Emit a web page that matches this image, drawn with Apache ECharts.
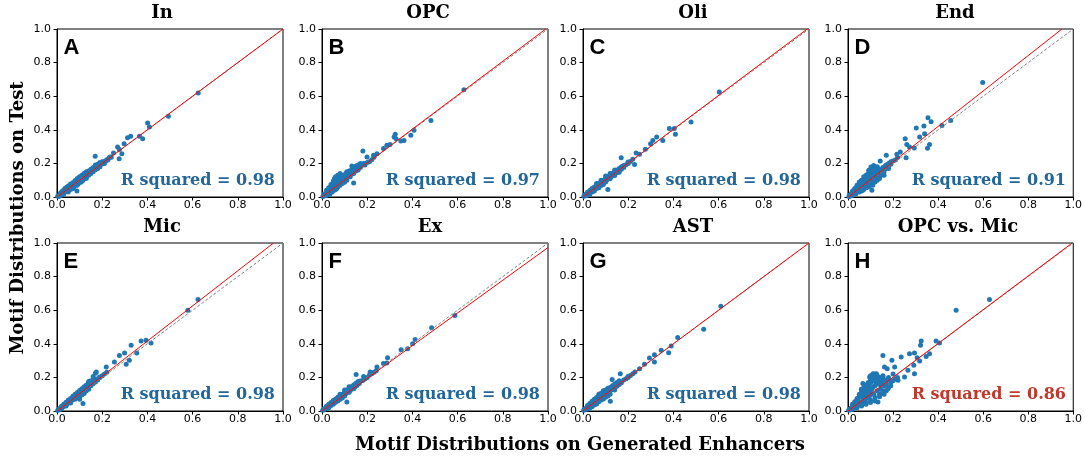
<!DOCTYPE html>
<html>
<head>
<meta charset="utf-8">
<script src="https://cdn.jsdelivr.net/npm/echarts@6/dist/echarts.min.js"></script>
<style>html,body{margin:0;padding:0;background:#fff}#c{width:1085px;height:458px}</style>
</head>
<body>
<div id="c"></div>
<script>
const titles = ['In','OPC','Oli','End','Mic','Ex','AST','OPC vs. Mic'];
const letters = ['A','B','C','D','E','F','G','H'];
const rSquared = ['0.98','0.97','0.98','0.91','0.98','0.98','0.98','0.86'];
const fitSlope = [1.0, 1.01, 1.008, 1.055, 1.046, 0.973, 1.0, 1.005];
const fitIntercept = [0, 0, 0, -0.002, -0.002, 0, 0, 0];
const tickValues = [0, 0.2, 0.4, 0.6, 0.8, 1.0];
const xAxisTitle = 'Motif Distributions on Generated Enhancers';
const yAxisTitle = 'Motif Distributions on Test';

const ptsA = [[0.003,0.004],[0.008,0.006],[0.012,0.014],[0.016,0.012],[0.02,0.022],[0.024,0.02],[0.028,0.031],[0.032,0.028],[0.036,0.04],[0.04,0.036],[0.044,0.048],[0.048,0.043],[0.052,0.057],[0.056,0.05],[0.06,0.066],[0.064,0.058],[0.068,0.074],[0.072,0.066],[0.076,0.083],[0.08,0.074],[0.084,0.092],[0.088,0.082],[0.092,0.1],[0.096,0.09],[0.1,0.108],[0.104,0.098],[0.108,0.117],[0.112,0.105],[0.116,0.124],[0.12,0.112],[0.125,0.134],[0.13,0.122],[0.135,0.142],[0.14,0.13],[0.145,0.155],[0.15,0.14],[0.155,0.163],[0.16,0.15],[0.165,0.172],[0.17,0.162],[0.175,0.18],[0.18,0.17],[0.185,0.19],[0.19,0.18],[0.2,0.196],[0.205,0.21],[0.21,0.2],[0.215,0.215],[0.225,0.22],[0.23,0.232],[0.24,0.236],[0.06,0.078],[0.08,0.098],[0.1,0.12],[0.12,0.14],[0.045,0.06],[0.035,0.05],[0.07,0.05],[0.09,0.072],[0.11,0.094],[0.088,0.036],[0.05,0.03],[0.13,0.112],[0.14,0.155],[0.16,0.176],[0.17,0.185],
 [0.02,0.03],[0.03,0.04],[0.04,0.055],[0.05,0.065],[0.06,0.07],[0.07,0.085],[0.08,0.09],[0.09,0.11],[0.1,0.115],[0.11,0.13],[0.12,0.13],[0.13,0.15],[0.14,0.148],[0.15,0.165],[0.16,0.168],[0.17,0.19],[0.18,0.195],[0.19,0.205],[0.2,0.21],[0.03,0.018],[0.045,0.035],[0.055,0.042],[0.065,0.048],[0.075,0.06],[0.085,0.07],[0.095,0.08],[0.105,0.088],[0.115,0.1],[0.125,0.11],[0.015,0.022],[0.025,0.035],[0.01,0.005],[0.022,0.012],
 [0.625,0.619],[0.493,0.48],[0.401,0.44],[0.409,0.417],[0.379,0.347],[0.365,0.361],[0.326,0.361],[0.312,0.353],[0.297,0.317],[0.268,0.298],[0.276,0.282],[0.287,0.258],[0.275,0.228],[0.25,0.262],[0.169,0.242],[0.235,0.238],[0.22,0.222]];
const ptsB = [[0.004,0.003],[0.008,0.01],[0.012,0.008],[0.015,0.02],[0.018,0.014],[0.02,0.03],[0.024,0.018],[0.026,0.04],[0.03,0.024],[0.032,0.05],[0.035,0.032],[0.038,0.06],[0.04,0.04],[0.042,0.07],[0.045,0.045],[0.048,0.08],[0.05,0.05],[0.052,0.09],[0.055,0.06],[0.058,0.1],[0.06,0.07],[0.062,0.085],[0.065,0.065],[0.068,0.11],[0.07,0.08],[0.072,0.095],[0.075,0.075],[0.078,0.12],[0.08,0.09],[0.085,0.105],[0.09,0.095],[0.092,0.125],[0.095,0.11],[0.1,0.1],[0.1,0.13],[0.105,0.12],[0.11,0.112],[0.112,0.14],[0.118,0.13],[0.12,0.122],[0.125,0.145],[0.13,0.135],[0.135,0.15],[0.14,0.14],[0.145,0.16],[0.15,0.155],[0.155,0.17],[0.16,0.16],[0.165,0.18],[0.17,0.175],[0.18,0.19],[0.185,0.2],[0.19,0.19],[0.2,0.205],[0.21,0.21],[0.22,0.222],[0.23,0.236],[0.035,0.018],[0.06,0.045],[0.08,0.07],[0.1,0.088],
 [0.02,0.04],[0.03,0.055],[0.04,0.075],[0.05,0.095],[0.055,0.11],[0.06,0.12],[0.065,0.1],[0.07,0.13],[0.075,0.115],[0.08,0.14],[0.085,0.12],[0.09,0.11],[0.095,0.13],[0.105,0.14],[0.11,0.15],[0.115,0.125],[0.12,0.155],[0.13,0.16],[0.14,0.17],[0.15,0.185],[0.16,0.19],[0.17,0.2],[0.02,0.01],[0.03,0.015],[0.045,0.03],[0.055,0.04],[0.065,0.05],[0.07,0.06],[0.09,0.08],[0.11,0.1],[0.125,0.12],[0.01,0.018],[0.015,0.008],
 [0.628,0.639],[0.482,0.456],[0.407,0.397],[0.393,0.367],[0.363,0.337],[0.349,0.333],[0.324,0.373],[0.319,0.357],[0.328,0.347],[0.287,0.308],[0.301,0.313],[0.272,0.288],[0.243,0.258],[0.228,0.248],[0.199,0.238],[0.181,0.274],[0.132,0.185],[0.14,0.083]];
const ptsC = [[0.004,0.005],[0.008,0.007],[0.012,0.013],[0.016,0.014],[0.02,0.021],[0.024,0.022],[0.028,0.03],[0.032,0.03],[0.036,0.039],[0.04,0.037],[0.044,0.047],[0.048,0.045],[0.052,0.056],[0.056,0.053],[0.06,0.064],[0.064,0.06],[0.068,0.073],[0.072,0.069],[0.076,0.082],[0.08,0.077],[0.084,0.09],[0.088,0.085],[0.092,0.099],[0.096,0.093],[0.1,0.107],[0.104,0.1],[0.108,0.116],[0.112,0.108],[0.116,0.124],[0.12,0.116],[0.125,0.133],[0.13,0.125],[0.135,0.142],[0.14,0.134],[0.145,0.152],[0.15,0.145],[0.155,0.162],[0.16,0.155],[0.165,0.17],[0.17,0.165],[0.175,0.18],[0.18,0.175],[0.19,0.192],[0.2,0.2],[0.21,0.212],[0.22,0.225],[0.03,0.015],[0.05,0.035],[0.07,0.055],[0.09,0.075],[0.06,0.08],[0.08,0.1],[0.1,0.125],[0.12,0.14],[0.14,0.16],
 [0.02,0.028],[0.03,0.038],[0.04,0.05],[0.05,0.06],[0.06,0.072],[0.07,0.08],[0.08,0.092],[0.09,0.1],[0.1,0.112],[0.11,0.12],[0.12,0.13],[0.13,0.14],[0.14,0.148],[0.15,0.158],[0.16,0.17],[0.17,0.18],[0.18,0.188],[0.02,0.012],[0.04,0.03],[0.06,0.05],[0.08,0.068],[0.1,0.09],[0.12,0.108],[0.14,0.128],[0.16,0.148],[0.01,0.015],[0.015,0.008],
 [0.603,0.625],[0.478,0.446],[0.404,0.407],[0.382,0.407],[0.409,0.373],[0.353,0.337],[0.326,0.357],[0.309,0.337],[0.299,0.317],[0.276,0.284],[0.235,0.262],[0.25,0.254],[0.169,0.234],[0.228,0.194],[0.199,0.208],[0.11,0.044]];
const ptsD = [[0.004,0.003],[0.008,0.012],[0.012,0.006],[0.015,0.022],[0.018,0.012],[0.022,0.03],[0.025,0.018],[0.028,0.04],[0.03,0.022],[0.033,0.05],[0.036,0.03],[0.04,0.06],[0.042,0.035],[0.045,0.07],[0.048,0.04],[0.05,0.08],[0.053,0.045],[0.056,0.09],[0.06,0.05],[0.062,0.1],[0.065,0.06],[0.068,0.085],[0.07,0.065],[0.072,0.11],[0.075,0.07],[0.078,0.095],[0.08,0.075],[0.082,0.12],[0.085,0.08],[0.088,0.105],[0.09,0.088],[0.092,0.13],[0.095,0.09],[0.1,0.115],[0.1,0.14],[0.105,0.1],[0.11,0.125],[0.112,0.15],[0.115,0.105],[0.12,0.135],[0.125,0.155],[0.13,0.12],[0.135,0.145],[0.14,0.165],[0.145,0.13],[0.15,0.16],[0.155,0.175],[0.16,0.15],[0.165,0.185],[0.17,0.17],[0.18,0.2],[0.19,0.195],[0.2,0.215],[0.21,0.22],[0.22,0.235],[0.06,0.035],[0.07,0.045],[0.09,0.06],[0.11,0.08],[0.13,0.1],[0.05,0.065],[0.12,0.09],[0.14,0.12],
 [0.02,0.035],[0.03,0.05],[0.04,0.07],[0.05,0.09],[0.06,0.1],[0.07,0.12],[0.08,0.13],[0.09,0.14],[0.1,0.15],[0.11,0.16],[0.12,0.17],[0.13,0.18],[0.02,0.01],[0.035,0.02],[0.05,0.03],[0.065,0.04],[0.08,0.055],[0.095,0.065],[0.11,0.07],[0.12,0.1],[0.14,0.11],[0.15,0.14],[0.16,0.13],[0.17,0.19],[0.18,0.18],[0.19,0.21],[0.025,0.025],[0.045,0.05],[0.065,0.075],[0.085,0.1],[0.105,0.125],[0.125,0.14],
 [0.598,0.681],[0.456,0.456],[0.417,0.425],[0.355,0.472],[0.369,0.448],[0.337,0.423],[0.303,0.411],[0.318,0.357],[0.34,0.377],[0.362,0.313],[0.353,0.29],[0.294,0.292],[0.254,0.347],[0.261,0.313],[0.273,0.298],[0.232,0.268],[0.217,0.254],[0.258,0.234],[0.17,0.248],[0.143,0.214],[0.114,0.188],[0.102,0.179],[0.092,0.159],[0.18,0.169],[0.158,0.139],[0.131,0.109],[0.106,0.04]];
const ptsE = [[0.003,0.003],[0.008,0.009],[0.012,0.011],[0.016,0.018],[0.02,0.019],[0.024,0.027],[0.028,0.026],[0.032,0.036],[0.036,0.034],[0.04,0.045],[0.044,0.042],[0.048,0.054],[0.052,0.05],[0.056,0.063],[0.06,0.058],[0.064,0.072],[0.068,0.066],[0.072,0.081],[0.076,0.074],[0.08,0.09],[0.084,0.082],[0.088,0.098],[0.092,0.09],[0.096,0.107],[0.1,0.098],[0.105,0.117],[0.11,0.108],[0.115,0.127],[0.12,0.118],[0.125,0.137],[0.13,0.13],[0.135,0.148],[0.14,0.14],[0.145,0.158],[0.15,0.15],[0.155,0.168],[0.16,0.162],[0.165,0.178],[0.17,0.172],[0.175,0.19],[0.18,0.185],[0.19,0.2],[0.2,0.21],[0.21,0.22],[0.22,0.23],[0.04,0.03],[0.06,0.048],[0.08,0.07],[0.1,0.086],[0.12,0.104],[0.1,0.07],[0.16,0.205],[0.17,0.225],[0.14,0.175],
 [0.02,0.028],[0.03,0.04],[0.04,0.052],[0.05,0.065],[0.06,0.075],[0.07,0.088],[0.08,0.1],[0.09,0.11],[0.1,0.122],[0.11,0.132],[0.12,0.145],[0.13,0.155],[0.14,0.165],[0.15,0.18],[0.16,0.185],[0.02,0.012],[0.04,0.035],[0.06,0.052],[0.08,0.075],[0.1,0.092],[0.12,0.112],[0.14,0.13],[0.11,0.095],[0.13,0.12],[0.01,0.014],
 [0.624,0.663],[0.579,0.599],[0.416,0.405],[0.394,0.421],[0.372,0.417],[0.353,0.345],[0.328,0.391],[0.299,0.345],[0.276,0.331],[0.306,0.278],[0.32,0.302],[0.254,0.292],[0.218,0.262],[0.174,0.232],[0.188,0.202],[0.115,0.044]];
const ptsF = [[0.003,0.004],[0.008,0.007],[0.012,0.013],[0.016,0.015],[0.02,0.022],[0.024,0.022],[0.028,0.031],[0.032,0.03],[0.036,0.04],[0.04,0.038],[0.044,0.048],[0.048,0.046],[0.052,0.057],[0.056,0.054],[0.06,0.065],[0.064,0.062],[0.068,0.074],[0.072,0.07],[0.076,0.083],[0.08,0.078],[0.084,0.092],[0.088,0.086],[0.092,0.1],[0.096,0.094],[0.1,0.109],[0.105,0.102],[0.11,0.12],[0.115,0.112],[0.12,0.13],[0.125,0.122],[0.13,0.14],[0.135,0.132],[0.14,0.15],[0.145,0.142],[0.15,0.16],[0.155,0.152],[0.16,0.17],[0.165,0.163],[0.17,0.178],[0.18,0.182],[0.19,0.19],[0.2,0.2],[0.21,0.215],[0.22,0.222],[0.23,0.23],[0.24,0.24],[0.03,0.02],[0.05,0.04],[0.07,0.06],[0.09,0.078],[0.12,0.145],[0.1,0.125],[0.08,0.1],
 [0.02,0.028],[0.03,0.04],[0.04,0.05],[0.05,0.062],[0.06,0.072],[0.07,0.082],[0.08,0.09],[0.09,0.1],[0.1,0.115],[0.11,0.125],[0.12,0.135],[0.13,0.145],[0.14,0.155],[0.15,0.165],[0.16,0.175],[0.02,0.014],[0.04,0.032],[0.06,0.052],[0.08,0.07],[0.1,0.09],[0.12,0.112],[0.14,0.132],[0.01,0.012],
 [0.588,0.569],[0.485,0.496],[0.412,0.425],[0.401,0.401],[0.379,0.371],[0.35,0.365],[0.29,0.317],[0.287,0.286],[0.272,0.282],[0.243,0.262],[0.213,0.232],[0.151,0.218],[0.184,0.206],[0.11,0.054]];
const ptsG = [[0.003,0.004],[0.008,0.01],[0.012,0.01],[0.016,0.02],[0.02,0.018],[0.024,0.03],[0.028,0.026],[0.032,0.04],[0.036,0.034],[0.04,0.05],[0.044,0.042],[0.048,0.058],[0.052,0.05],[0.056,0.066],[0.06,0.058],[0.064,0.075],[0.068,0.066],[0.072,0.085],[0.076,0.074],[0.08,0.093],[0.084,0.082],[0.088,0.102],[0.092,0.09],[0.096,0.11],[0.1,0.098],[0.105,0.118],[0.11,0.108],[0.115,0.127],[0.12,0.118],[0.125,0.136],[0.13,0.128],[0.135,0.145],[0.14,0.138],[0.145,0.155],[0.15,0.148],[0.155,0.164],[0.16,0.158],[0.165,0.172],[0.17,0.168],[0.18,0.185],[0.19,0.192],[0.2,0.2],[0.21,0.212],[0.22,0.222],[0.23,0.232],[0.04,0.025],[0.06,0.042],[0.08,0.065],[0.1,0.082],[0.11,0.09],[0.07,0.1],[0.09,0.115],
 [0.02,0.032],[0.03,0.045],[0.04,0.058],[0.05,0.07],[0.06,0.08],[0.07,0.09],[0.08,0.105],[0.09,0.12],[0.1,0.125],[0.11,0.135],[0.12,0.14],[0.13,0.15],[0.14,0.16],[0.15,0.17],[0.16,0.18],[0.02,0.012],[0.03,0.018],[0.05,0.035],[0.07,0.055],[0.09,0.072],[0.12,0.1],[0.14,0.125],[0.01,0.014],
 [0.61,0.623],[0.534,0.486],[0.419,0.437],[0.39,0.387],[0.379,0.347],[0.346,0.361],[0.316,0.335],[0.316,0.292],[0.294,0.315],[0.272,0.278],[0.25,0.252],[0.165,0.222],[0.129,0.187],[0.199,0.206],[0.121,0.058]];
const ptsH = [[0.003,0.004],[0.008,0.012],[0.012,0.007],[0.015,0.02],[0.018,0.012],[0.022,0.03],[0.025,0.016],[0.028,0.04],[0.03,0.022],[0.033,0.05],[0.036,0.028],[0.04,0.062],[0.042,0.034],[0.045,0.072],[0.048,0.04],[0.05,0.085],[0.053,0.046],[0.056,0.095],[0.06,0.05],[0.062,0.108],[0.065,0.058],[0.068,0.085],[0.07,0.065],[0.072,0.12],[0.075,0.07],[0.078,0.1],[0.08,0.075],[0.082,0.135],[0.085,0.08],[0.088,0.11],[0.09,0.085],[0.092,0.15],[0.095,0.09],[0.1,0.12],[0.1,0.165],[0.105,0.1],[0.11,0.14],[0.112,0.18],[0.115,0.1],[0.12,0.15],[0.125,0.19],[0.13,0.12],[0.135,0.16],[0.14,0.2],[0.145,0.13],[0.15,0.17],[0.155,0.21],[0.16,0.15],[0.165,0.185],[0.17,0.16],[0.18,0.2],[0.19,0.17],[0.2,0.22],[0.21,0.19],[0.06,0.035],[0.08,0.05],[0.1,0.065],[0.12,0.08],[0.14,0.1],[0.16,0.12],[0.1,0.21],[0.11,0.215],[0.12,0.22],
 [0.02,0.04],[0.03,0.055],[0.04,0.075],[0.05,0.1],[0.06,0.12],[0.07,0.14],[0.08,0.155],[0.09,0.17],[0.1,0.185],[0.11,0.2],[0.12,0.205],[0.13,0.21],[0.14,0.18],[0.15,0.19],[0.02,0.01],[0.04,0.02],[0.06,0.03],[0.08,0.04],[0.1,0.05],[0.12,0.06],[0.14,0.085],[0.16,0.1],[0.18,0.14],[0.17,0.12],[0.19,0.15],[0.2,0.18],[0.22,0.2],[0.025,0.03],[0.045,0.055],[0.065,0.08],[0.085,0.1],[0.105,0.13],[0.125,0.165],[0.145,0.155],
 [0.628,0.663],[0.48,0.599],[0.391,0.417],[0.406,0.405],[0.362,0.341],[0.347,0.325],[0.325,0.417],[0.322,0.391],[0.318,0.298],[0.295,0.345],[0.307,0.317],[0.273,0.341],[0.292,0.272],[0.295,0.222],[0.266,0.242],[0.236,0.321],[0.207,0.262],[0.195,0.302],[0.155,0.331],[0.162,0.262],[0.174,0.252],[0.126,0.222],[0.111,0.222],[0.096,0.202],[0.155,0.206],[0.185,0.183],[0.222,0.183],[0.251,0.202],[0.133,0.054],[0.089,0.123],[0.066,0.163],[0.059,0.129],[0.148,0.103],[0.177,0.133]];
const panelPoints = [ptsA, ptsB, ptsC, ptsD, ptsE, ptsF, ptsG, ptsH];

const colLeft = [57, 322, 583, 848];
const rowTop = [29, 243];
const W = 226, H = 168;
const titleCenters = [162, 428, 693, 955, 162, 430, 693, 958];
const SERIF = '"DejaVu Serif", serif';

const grids = [], xAxes = [], yAxes = [], series = [], graphics = [];
for (let i = 0; i < 8; i++) {
  const left = colLeft[i % 4], top = rowTop[Math.floor(i / 4)];
  grids.push({left: left, top: top, width: W, height: H, show: true, borderColor: '#000', borderWidth: 1, backgroundColor: '#fff'});
  const axCommon = {
    gridIndex: i, type: 'value', min: 0, max: 1, interval: 0.2,
    splitLine: {show: false},
    axisLine: {show: true, onZero: false, lineStyle: {color: '#000', width: 1}},
    axisTick: {show: true, inside: false, length: 3.5, lineStyle: {color: '#000'}},
    axisLabel: {show: true, color: '#000', fontFamily: '"DejaVu Sans"', fontSize: 11, formatter: v => v.toFixed(1), showMinLabel: true, showMaxLabel: true}
  };
  xAxes.push(Object.assign({}, axCommon, {axisLabel: Object.assign({}, axCommon.axisLabel, {margin: 3})}));
  yAxes.push(Object.assign({}, axCommon, {axisLabel: Object.assign({}, axCommon.axisLabel, {margin: 6})}));
  series.push({type: 'scatter', xAxisIndex: i, yAxisIndex: i, data: panelPoints[i], symbolSize: 5, itemStyle: {color: '#1f77b4', opacity: 1}, silent: true, z: 2});
  series.push({type: 'line', xAxisIndex: i, yAxisIndex: i, data: [[0, 0], [1, 1]], symbol: 'none', lineStyle: {color: '#808080', width: 1, type: [3, 2]}, silent: true, z: 3, clip: true});
  const m = fitSlope[i], b = fitIntercept[i];
  const xEnd = Math.min(1, (1 - b) / m);
  series.push({type: 'line', xAxisIndex: i, yAxisIndex: i, data: [[0, b], [xEnd, m * xEnd + b]], symbol: 'none', lineStyle: {color: '#ff0000', width: 1}, silent: true, z: 4, clip: true});

  graphics.push({type: 'text', x: titleCenters[i], y: top - 16, style: {text: titles[i], font: 'bold 18px ' + SERIF, fill: '#000', align: 'center', verticalAlign: 'middle', textAlign: 'center', textVerticalAlign: 'middle'}});
  graphics.push({type: 'text', x: left + 6.5, y: top + 18.5, z: 10, style: {text: letters[i], font: 'bold 22px "Liberation Sans", Arial, sans-serif', fill: '#000', align: 'left', verticalAlign: 'middle', textAlign: 'left', textVerticalAlign: 'middle'}});
  graphics.push({type: 'text', x: left + W - 8, y: top + H - 16.5, z: 10, style: {text: 'R squared = ' + rSquared[i], font: 'bold 16px ' + SERIF, fill: i === 7 ? '#c0392b' : '#23679a', align: 'right', verticalAlign: 'middle', textAlign: 'right', textVerticalAlign: 'middle'}});
}
graphics.push({type: 'text', x: 580, y: 445, style: {text: xAxisTitle, font: 'bold 18px ' + SERIF, fill: '#000', align: 'center', verticalAlign: 'middle', textAlign: 'center', textVerticalAlign: 'middle'}});
graphics.push({type: 'text', x: 18, y: 218, rotation: Math.PI / 2, style: {text: yAxisTitle, font: 'bold 18px ' + SERIF, fill: '#000', align: 'center', verticalAlign: 'middle', textAlign: 'center', textVerticalAlign: 'middle'}});

const chart = echarts.init(document.getElementById('c'), null, {renderer: 'canvas'});
chart.setOption({animation: false, backgroundColor: '#fff', grid: grids, xAxis: xAxes, yAxis: yAxes, series: series, graphic: graphics});
</script>
</body>
</html>
